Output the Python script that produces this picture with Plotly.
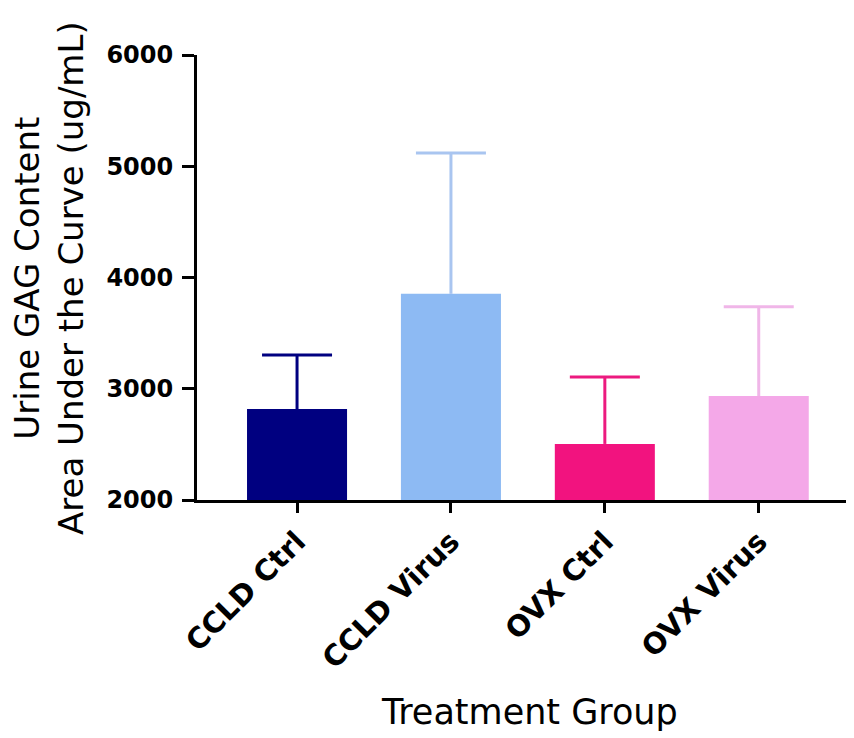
import plotly.graph_objects as go

categories = ["CCLD Ctrl", "CCLD Virus", "OVX Ctrl", "OVX Virus"]
means = [2818, 3853, 2504, 2935]
errors = [486, 1267, 602, 801]
bar_colors = ["#000080", "#8DBAF3", "#F2137F", "#F4A8E8"]
err_colors = ["#000080", "#A9C5F0", "#EC1A7F", "#F0B6E8"]
y_ticks = [2000, 3000, 4000, 5000, 6000]

FONT = "DejaVu Sans"

fig = go.Figure()
for cat, m, e, bc, ec in zip(categories, means, errors, bar_colors, err_colors):
    fig.add_trace(go.Bar(
        x=[cat], y=[m - 2000], base=2000,
        marker=dict(color=bc, line=dict(width=0)),
        width=0.65,
        error_y=dict(type="data", array=[e], arrayminus=[0], symmetric=False,
                     color=ec, thickness=3, width=0, visible=True),
        showlegend=False, hoverinfo="skip",
    ))
    # error bar cap
    fig.add_trace(go.Scatter(
        x=[cat], y=[m + e], mode="markers",
        marker=dict(symbol="line-ew", size=50, color=ec,
                    line=dict(color=ec, width=3)),
        showlegend=False, hoverinfo="skip",
    ))

# the page body has an 8px margin; compensate so the plot lands where intended
OFF = 8
W, H = 854 - OFF, 738 - OFF
L, R, T, B = 197 - OFF, 6, 55 - OFF, 238
pw = W - L - R
ph = H - T - B

fig.update_layout(
    width=W, height=H,
    margin=dict(l=L, r=R, t=T, b=B, pad=0),
    plot_bgcolor="white", paper_bgcolor="white",
    font=dict(family=FONT, color="black"),
    xaxis=dict(
        type="category", categoryorder="array", categoryarray=categories,
        range=[-0.65, 3.58],
        showline=True, linecolor="black", linewidth=3,
        ticks="outside", ticklen=10, tickwidth=3, tickcolor="black",
        tickangle=-45,
        tickfont=dict(family=FONT, size=29, weight="bold", color="black"),
        showgrid=False, zeroline=False,
    ),
    yaxis=dict(
        range=[2000, 6000],
        tickvals=y_ticks,
        showline=True, linecolor="black", linewidth=3,
        ticks="outside", ticklen=12, tickwidth=3, tickcolor="black",
        ticklabelstandoff=4,
        tickfont=dict(family=FONT, size=24, weight="bold", color="black"),
        showgrid=False, zeroline=False,
    ),
    annotations=[
        dict(text="Urine GAG Content<br>Area Under the Curve (ug/mL)",
             xref="paper", yref="paper",
             x=(49 - OFF - L) / pw, y=(ph - (278 - OFF - T)) / ph,
             xanchor="center", yanchor="middle",
             textangle=-90, showarrow=False,
             font=dict(family=FONT, size=34, color="black")),
        dict(text="Treatment Group",
             xref="paper", yref="paper",
             x=(529 - OFF - L) / pw, y=(ph - (712 - OFF - T)) / ph,
             xanchor="center", yanchor="middle", showarrow=False,
             font=dict(family=FONT, size=35, color="black")),
    ],
)

fig.write_html("out.html")
